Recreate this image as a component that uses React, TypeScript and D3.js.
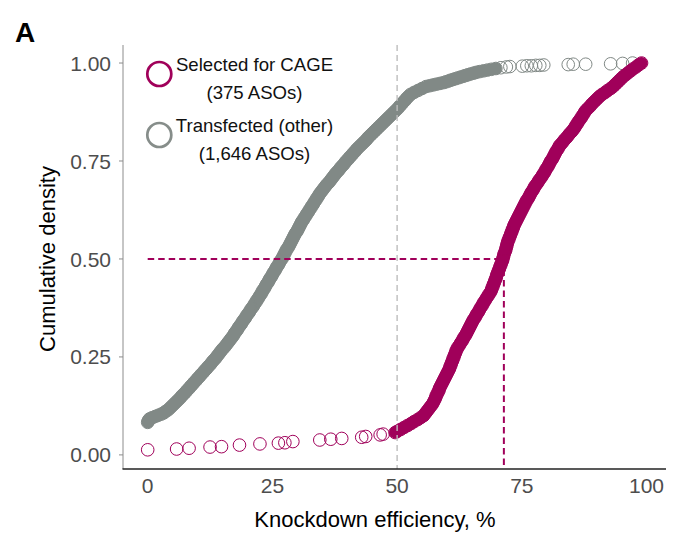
import React from 'react';
import * as d3 from 'd3';

// ECDF points: [knockdown efficiency %, cumulative density]
const otherPoints: [number, number][] = [
  [0.0, 0.083], [0.1, 0.086], [0.2, 0.089], [0.4, 0.092], [0.9, 0.095], [1.5, 0.098], [2.1, 0.101], [2.7, 0.104],
  [3.2, 0.107], [3.6, 0.111], [4.1, 0.115], [4.5, 0.12], [4.9, 0.125], [5.3, 0.13], [5.7, 0.135], [6.1, 0.14],
  [6.5, 0.145], [6.8, 0.15], [7.2, 0.155], [7.6, 0.16], [7.9, 0.165], [8.3, 0.17], [8.6, 0.175], [9.0, 0.18],
  [9.3, 0.185], [9.7, 0.19], [10.0, 0.195], [10.4, 0.2], [10.7, 0.205], [11.1, 0.21], [11.4, 0.215], [11.8, 0.22],
  [12.1, 0.225], [12.5, 0.23], [12.8, 0.235], [13.1, 0.24], [13.5, 0.245], [13.8, 0.25], [14.1, 0.255], [14.4, 0.26],
  [14.7, 0.265], [15.0, 0.27], [15.4, 0.275], [15.7, 0.28], [16.0, 0.285], [16.3, 0.29], [16.6, 0.295], [16.9, 0.3],
  [17.2, 0.305], [17.4, 0.31], [17.7, 0.315], [18.0, 0.32], [18.2, 0.325], [18.5, 0.33], [18.8, 0.335], [19.0, 0.34],
  [19.3, 0.345], [19.6, 0.35], [19.8, 0.355], [20.1, 0.36], [20.4, 0.365], [20.6, 0.37], [20.9, 0.375], [21.2, 0.38],
  [21.4, 0.385], [21.7, 0.39], [21.9, 0.395], [22.2, 0.4], [22.4, 0.405], [22.7, 0.41], [22.9, 0.415], [23.1, 0.42],
  [23.4, 0.425], [23.6, 0.43], [23.8, 0.435], [24.1, 0.44], [24.3, 0.445], [24.5, 0.45], [24.8, 0.455], [25.0, 0.46],
  [25.2, 0.465], [25.5, 0.47], [25.7, 0.475], [25.9, 0.48], [26.2, 0.485], [26.4, 0.49], [26.6, 0.495], [26.9, 0.5],
  [27.1, 0.505], [27.3, 0.51], [27.5, 0.515], [27.7, 0.52], [27.9, 0.525], [28.2, 0.53], [28.4, 0.535], [28.6, 0.54],
  [28.8, 0.545], [29.0, 0.55], [29.2, 0.555], [29.4, 0.56], [29.6, 0.565], [29.9, 0.57], [30.1, 0.575], [30.3, 0.58],
  [30.5, 0.585], [30.7, 0.59], [30.9, 0.595], [31.2, 0.6], [31.4, 0.605], [31.7, 0.61], [31.9, 0.615], [32.2, 0.62],
  [32.4, 0.625], [32.7, 0.63], [32.9, 0.635], [33.2, 0.64], [33.4, 0.645], [33.7, 0.65], [33.9, 0.655], [34.2, 0.66],
  [34.4, 0.665], [34.7, 0.67], [35.0, 0.675], [35.3, 0.68], [35.6, 0.685], [35.9, 0.69], [36.3, 0.695], [36.6, 0.7],
  [36.9, 0.705], [37.2, 0.71], [37.5, 0.715], [37.8, 0.72], [38.2, 0.725], [38.5, 0.73], [38.8, 0.735], [39.2, 0.74],
  [39.5, 0.745], [39.8, 0.75], [40.2, 0.755], [40.5, 0.76], [40.9, 0.765], [41.2, 0.77], [41.6, 0.775], [41.9, 0.78],
  [42.3, 0.785], [42.7, 0.79], [43.1, 0.795], [43.5, 0.8], [43.9, 0.805], [44.2, 0.81], [44.6, 0.815], [45.0, 0.82],
  [45.4, 0.825], [45.8, 0.83], [46.2, 0.835], [46.6, 0.84], [47.0, 0.845], [47.4, 0.85], [47.8, 0.855], [48.2, 0.86],
  [48.6, 0.865], [49.0, 0.87], [49.4, 0.875], [49.8, 0.88], [50.2, 0.885], [50.5, 0.89], [50.9, 0.895], [51.2, 0.9],
  [51.6, 0.905], [51.9, 0.91], [52.3, 0.915], [52.7, 0.92], [53.4, 0.925], [54.2, 0.93], [55.0, 0.935], [55.8, 0.94],
  [56.5, 0.942], [57.2, 0.944], [57.9, 0.946], [58.6, 0.948], [59.3, 0.95], [59.8, 0.952], [60.3, 0.954], [60.7, 0.956],
  [61.2, 0.958], [61.7, 0.96], [62.2, 0.962], [62.7, 0.964], [63.2, 0.966], [63.7, 0.968], [64.2, 0.97], [64.7, 0.972],
  [65.3, 0.974], [65.8, 0.976], [66.5, 0.978], [67.3, 0.98], [68.1, 0.982], [68.9, 0.984], [69.8, 0.986], [70.8, 0.988],
  [71.9, 0.99], [72.6, 0.991], [75.1, 0.992], [76.0, 0.993], [76.9, 0.993], [77.8, 0.994], [78.6, 0.994], [79.4, 0.995],
  [84.3, 0.996], [85.3, 0.997], [87.8, 0.997], [92.8, 0.998], [95.2, 0.999], [97.2, 1.0],
];

const selectedPoints: [number, number][] = [
  [0.0, 0.013], [5.8, 0.015], [8.3, 0.017], [12.5, 0.02], [14.8, 0.021], [18.4, 0.025], [22.5, 0.028], [26.2, 0.03],
  [27.5, 0.031], [29.1, 0.034], [34.5, 0.038], [36.7, 0.04], [38.9, 0.042], [42.9, 0.045], [43.7, 0.047], [46.6, 0.051],
  [47.2, 0.053], [49.6, 0.057],
  [50.0, 0.06], [50.7, 0.065], [51.4, 0.07], [52.1, 0.075], [52.8, 0.08], [53.4, 0.085], [54.1, 0.09], [54.7, 0.095],
  [55.3, 0.1], [55.6, 0.105], [55.9, 0.11], [56.2, 0.115], [56.5, 0.12], [56.8, 0.125], [57.1, 0.13], [57.3, 0.135],
  [57.5, 0.14], [57.7, 0.145], [57.8, 0.15], [58.0, 0.155], [58.2, 0.16], [58.4, 0.165], [58.5, 0.17], [58.7, 0.175],
  [58.9, 0.18], [59.1, 0.185], [59.3, 0.19], [59.5, 0.195], [59.7, 0.2], [59.9, 0.205], [60.1, 0.21], [60.3, 0.215],
  [60.5, 0.22], [60.6, 0.225], [60.8, 0.23], [60.9, 0.235], [61.1, 0.24], [61.2, 0.245], [61.4, 0.25], [61.5, 0.255],
  [61.7, 0.26], [61.8, 0.265], [62.0, 0.27], [62.2, 0.275], [62.5, 0.28], [62.7, 0.285], [63.0, 0.29], [63.2, 0.295],
  [63.4, 0.3], [63.7, 0.305], [63.9, 0.31], [64.1, 0.315], [64.3, 0.32], [64.5, 0.325], [64.7, 0.33], [64.9, 0.335],
  [65.1, 0.34], [65.3, 0.345], [65.6, 0.35], [65.8, 0.355], [66.0, 0.36], [66.3, 0.365], [66.5, 0.37], [66.7, 0.375],
  [67.0, 0.38], [67.2, 0.385], [67.4, 0.39], [67.7, 0.395], [67.9, 0.4], [68.2, 0.405], [68.4, 0.41], [68.7, 0.415],
  [68.9, 0.42], [69.0, 0.425], [69.2, 0.43], [69.3, 0.435], [69.5, 0.44], [69.6, 0.445], [69.8, 0.45], [69.9, 0.455],
  [70.0, 0.46], [70.2, 0.465], [70.3, 0.47], [70.5, 0.475], [70.6, 0.48], [70.8, 0.485], [70.9, 0.49], [71.1, 0.495],
  [71.2, 0.5], [71.3, 0.505], [71.4, 0.51], [71.5, 0.515], [71.7, 0.52], [71.8, 0.525], [71.9, 0.53], [72.0, 0.535],
  [72.1, 0.54], [72.2, 0.545], [72.4, 0.55], [72.5, 0.555], [72.7, 0.56], [72.8, 0.565], [73.0, 0.57], [73.1, 0.575],
  [73.3, 0.58], [73.4, 0.585], [73.6, 0.59], [73.8, 0.595], [74.0, 0.6], [74.2, 0.605], [74.4, 0.61], [74.6, 0.615],
  [74.8, 0.62], [75.0, 0.625], [75.2, 0.63], [75.4, 0.635], [75.6, 0.64], [75.8, 0.645], [76.0, 0.65], [76.3, 0.655],
  [76.5, 0.66], [76.7, 0.665], [76.9, 0.67], [77.2, 0.675], [77.4, 0.68], [77.6, 0.685], [77.9, 0.69], [78.2, 0.695],
  [78.4, 0.7], [78.7, 0.705], [79.0, 0.71], [79.2, 0.715], [79.5, 0.72], [79.7, 0.725], [79.9, 0.73], [80.2, 0.735],
  [80.4, 0.74], [80.6, 0.745], [80.8, 0.75], [81.1, 0.755], [81.3, 0.76], [81.5, 0.765], [81.7, 0.77], [81.9, 0.775],
  [82.2, 0.78], [82.4, 0.785], [82.6, 0.79], [83.0, 0.795], [83.3, 0.8], [83.6, 0.805], [84.0, 0.81], [84.3, 0.815],
  [84.6, 0.82], [85.0, 0.825], [85.3, 0.83], [85.6, 0.835], [85.8, 0.84], [86.1, 0.845], [86.3, 0.85], [86.6, 0.855],
  [86.9, 0.86], [87.1, 0.865], [87.4, 0.87], [87.6, 0.875], [87.9, 0.88], [88.3, 0.885], [88.7, 0.89], [89.0, 0.895],
  [89.4, 0.9], [89.8, 0.905], [90.2, 0.91], [90.6, 0.915], [91.1, 0.92], [91.7, 0.925], [92.2, 0.93], [92.8, 0.935],
  [93.3, 0.94], [93.7, 0.945], [94.1, 0.95], [94.5, 0.955], [94.9, 0.96], [95.3, 0.965], [95.8, 0.97], [96.3, 0.975],
  [96.8, 0.98], [97.3, 0.985], [97.9, 0.99], [98.4, 0.995], [99.0, 1.0],
];

const selectedMedian = 71.4;
const halfDensity = 0.5;
const cutoffLine = 50;

const xTicks = [0, 25, 50, 75, 100];
const yTicks = [0, 0.25, 0.5, 0.75, 1];
const legendItems = [
  { lines: ['Selected for CAGE', '(375 ASOs)'], color: '#a0005a' },
  { lines: ['Transfected (other)', '(1,646 ASOs)'], color: '#868d8a' },
];

const W = 688;
const H = 543;
const FONT = '"Liberation Sans", Arial, Helvetica, sans-serif';
const MAGENTA = '#a0005a';
const GRAY = '#818986';
const R = 6.3;

// stretches where the real (much denser) points overlap into a solid band
function denseRuns(pts: [number, number][], gap: number, minLen: number) {
  const runs: [number, number][][] = [];
  let cur: [number, number][] = [];
  pts.forEach((p, i) => {
    if (i > 0) {
      const q = pts[i - 1];
      if (Math.hypot(p[0] - q[0], p[1] - q[1]) > gap) {
        if (cur.length >= minLen) runs.push(cur);
        cur = [];
      }
    }
    cur.push(p);
  });
  if (cur.length >= minLen) runs.push(cur);
  return runs;
}

export default function App() {
  const x = d3.scaleLinear().domain([-4.95, 103.9]).range([123, 666]);
  const y = d3.scaleLinear().domain([-0.036, 1.046]).range([469, 45]);
  const fmt = d3.format('.2f');
  const [x0, x1] = x.range();
  const [yb, yt] = y.range();

  const toPx = (pts: [number, number][]) => pts.map(d => [x(d[0]), y(d[1])] as [number, number]);
  const line = d3.line();
  const series = [
    { pts: toPx(otherPoints), color: GRAY },
    { pts: toPx(selectedPoints), color: MAGENTA },
  ];

  return (
    <svg width={W} height={H} style={{ position: 'absolute', left: 0, top: 0, background: '#fff' }} fontFamily={FONT}>
      <text x={15} y={41.5} fontSize={28} fontWeight="bold" fill="#000">A</text>

      {/* points: gray first, magenta on top */}
      {series.map((s, k) => (
        <g key={'s' + k}>
          {denseRuns(s.pts, 4.6, 8).map((run, j) => (
            <path key={j} d={line(run) || ''} fill="none" stroke={s.color} strokeWidth={2 * R - 0.6}
              strokeLinecap="round" strokeLinejoin="round" />
          ))}
          {s.pts.map((p, i) => (
            <circle key={i} cx={p[0]} cy={p[1]} r={R} fill="none" stroke={s.color} strokeWidth={1} />
          ))}
        </g>
      ))}

      {/* reference lines */}
      <line x1={x(cutoffLine)} x2={x(cutoffLine)} y1={yt} y2={yb} stroke="#bdbdbd" strokeWidth={1.4} strokeDasharray="6 4" />
      <line x1={x(0)} x2={x(selectedMedian)} y1={y(halfDensity)} y2={y(halfDensity)} stroke={MAGENTA} strokeWidth={2} strokeDasharray="6.5 4" />
      <line x1={x(selectedMedian)} x2={x(selectedMedian)} y1={y(halfDensity)} y2={yb} stroke={MAGENTA} strokeWidth={2} strokeDasharray="6.5 4" />

      {/* axes */}
      <line x1={x0} x2={x0} y1={yt} y2={yb} stroke="#8c8c8c" strokeWidth={1} />
      <line x1={x0 - 0.5} x2={x1} y1={yb} y2={yb} stroke="#222" strokeWidth={1.6} />
      {yTicks.map(t => (
        <g key={'y' + t}>
          <line x1={x0 - 4} x2={x0} y1={y(t)} y2={y(t)} stroke="#8c8c8c" strokeWidth={1} />
          <text x={x0 - 12} y={y(t)} dy="0.36em" textAnchor="end" fontSize={21} fill="#4d4d4d">{fmt(t)}</text>
        </g>
      ))}
      {xTicks.map(t => (
        <text key={'x' + t} x={x(t)} y={493} textAnchor="middle" fontSize={21} fill="#4d4d4d">{t}</text>
      ))}

      <text x={375} y={527} textAnchor="middle" fontSize={22} fill="#000">Knockdown efficiency, %</text>
      <text transform={`translate(55,259) rotate(-90)`} textAnchor="middle" fontSize={22} fill="#000">Cumulative density</text>

      {/* legend */}
      {legendItems.map((it, i) => (
        <g key={'l' + i} transform={`translate(0,${i * 61})`}>
          <circle cx={159.3} cy={74} r={12} fill="none" stroke={it.color} strokeWidth={2.7} />
          <text x={254.5} y={71} textAnchor="middle" fontSize={18.6} fill="#111">{it.lines[0]}</text>
          <text x={254.5} y={99} textAnchor="middle" fontSize={18.6} fill="#111">{it.lines[1]}</text>
        </g>
      ))}
    </svg>
  );
}
